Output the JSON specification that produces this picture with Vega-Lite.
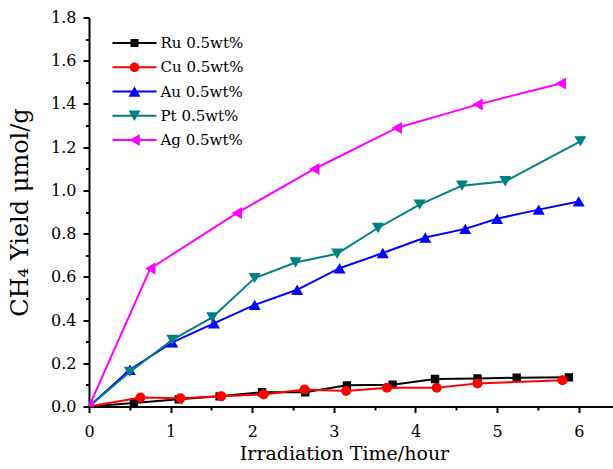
{
  "$schema": "https://vega.github.io/schema/vega-lite/v6.json",
  "autosize": "none",
  "width": 524,
  "height": 389,
  "padding": {"left": 89, "top": 17.5, "right": 0, "bottom": 62.5},
  "background": "white",
  "config": {
    "font": "DejaVu Serif",
    "view": {"stroke": null},
    "axis": {"grid": false, "domainColor": "black", "domainWidth": 2, "tickColor": "black", "tickWidth": 2, "labelColor": "black", "titleColor": "black", "titleFontWeight": "normal", "labelFlush": false, "labelOverlap": false}
  },
  "datasets": {
    "yield": [
      {"series": "Ru", "t": 0, "v": 0},
      {"series": "Ru", "t": 0.55, "v": 0.016},
      {"series": "Ru", "t": 1.10, "v": 0.033},
      {"series": "Ru", "t": 1.60, "v": 0.047},
      {"series": "Ru", "t": 2.12, "v": 0.066},
      {"series": "Ru", "t": 2.65, "v": 0.066},
      {"series": "Ru", "t": 3.16, "v": 0.098},
      {"series": "Ru", "t": 3.72, "v": 0.101},
      {"series": "Ru", "t": 4.24, "v": 0.127},
      {"series": "Ru", "t": 4.76, "v": 0.130},
      {"series": "Ru", "t": 5.24, "v": 0.133},
      {"series": "Ru", "t": 5.88, "v": 0.135},
      {"series": "Cu", "t": 0, "v": 0},
      {"series": "Cu", "t": 0.63, "v": 0.042},
      {"series": "Cu", "t": 1.12, "v": 0.038},
      {"series": "Cu", "t": 1.62, "v": 0.048},
      {"series": "Cu", "t": 2.14, "v": 0.056},
      {"series": "Cu", "t": 2.64, "v": 0.079},
      {"series": "Cu", "t": 3.15, "v": 0.072},
      {"series": "Cu", "t": 3.65, "v": 0.087},
      {"series": "Cu", "t": 4.26, "v": 0.087},
      {"series": "Cu", "t": 4.76, "v": 0.107},
      {"series": "Cu", "t": 5.80, "v": 0.122},
      {"series": "Au", "t": 0, "v": 0},
      {"series": "Au", "t": 0.50, "v": 0.170},
      {"series": "Au", "t": 1.02, "v": 0.297},
      {"series": "Au", "t": 1.53, "v": 0.385},
      {"series": "Au", "t": 2.03, "v": 0.470},
      {"series": "Au", "t": 2.55, "v": 0.540},
      {"series": "Au", "t": 3.07, "v": 0.640},
      {"series": "Au", "t": 3.60, "v": 0.710},
      {"series": "Au", "t": 4.12, "v": 0.782},
      {"series": "Au", "t": 4.61, "v": 0.822},
      {"series": "Au", "t": 5.00, "v": 0.869},
      {"series": "Au", "t": 5.51, "v": 0.911},
      {"series": "Au", "t": 6.00, "v": 0.949},
      {"series": "Pt", "t": 0, "v": 0},
      {"series": "Pt", "t": 0.50, "v": 0.160},
      {"series": "Pt", "t": 1.02, "v": 0.308},
      {"series": "Pt", "t": 1.51, "v": 0.412},
      {"series": "Pt", "t": 2.03, "v": 0.594},
      {"series": "Pt", "t": 2.53, "v": 0.666},
      {"series": "Pt", "t": 3.04, "v": 0.707},
      {"series": "Pt", "t": 3.54, "v": 0.826},
      {"series": "Pt", "t": 4.05, "v": 0.934},
      {"series": "Pt", "t": 4.57, "v": 1.022},
      {"series": "Pt", "t": 5.10, "v": 1.042},
      {"series": "Pt", "t": 6.02, "v": 1.227},
      {"series": "Ag", "t": 0, "v": 0},
      {"series": "Ag", "t": 0.75, "v": 0.638},
      {"series": "Ag", "t": 1.81, "v": 0.895},
      {"series": "Ag", "t": 2.76, "v": 1.099},
      {"series": "Ag", "t": 3.77, "v": 1.289},
      {"series": "Ag", "t": 4.76, "v": 1.397},
      {"series": "Ag", "t": 5.78, "v": 1.495}
    ]
  },
  "data": {"name": "yield"},
  "encoding": {
    "x": {
      "field": "t", "type": "quantitative",
      "scale": {"domain": [0, 6.42], "nice": false, "zero": false},
      "axis": {
        "values": [0, 0.5, 1, 1.5, 2, 2.5, 3, 3.5, 4, 4.5, 5, 5.5, 6],
        "labelExpr": "datum.value % 1 === 0 ? format(datum.value, 'd') : ''",
        "tickSize": {"condition": {"test": "datum.value % 1 === 0", "value": 6}, "value": 3.5},
        "labelFontSize": 16,
        "labelPadding": 11,
        "title": "Irradiation Time/hour",
        "titleFontSize": 19,
        "titlePadding": 5,
        "titleX": 255
      }
    },
    "y": {
      "field": "v", "type": "quantitative",
      "scale": {"domain": [0, 1.8], "nice": false},
      "axis": {
        "values": [0, 0.1, 0.2, 0.3, 0.4, 0.5, 0.6, 0.7, 0.8, 0.9, 1.0, 1.1, 1.2, 1.3, 1.4, 1.5, 1.6, 1.7, 1.8],
        "labelExpr": "round(datum.value * 10) % 2 === 0 ? format(datum.value, '.1f') : ''",
        "tickSize": {"condition": {"test": "round(datum.value * 10) % 2 === 0", "value": 6}, "value": 3.5},
        "labelFontSize": 16,
        "labelPadding": 7,
        "title": "CH₄ Yield μmol/g",
        "titleFontSize": 24,
        "titlePadding": 18
      }
    }
  },
  "layer": [
    {
      "data": {"values": [{"edge": "top"}]},
      "mark": {"type": "rule", "color": "black", "strokeWidth": 2},
      "encoding": {"x": null, "y": {"datum": 1.8, "type": "quantitative"}}
    },
    {
      "transform": [{"filter": "datum.series === 'Ru'"}],
      "layer": [
        {"mark": {"type": "line", "strokeWidth": 2, "color": "#000000", "clip": true}, "encoding": {}},
        {"mark": {"type": "point", "shape": "square", "filled": true, "opacity": 1, "size": 70, "color": "#000000", "clip": true}}
      ]
    },
    {
      "transform": [{"filter": "datum.series === 'Cu'"}],
      "layer": [
        {"mark": {"type": "line", "strokeWidth": 2, "color": "#FF0000", "clip": true}, "encoding": {}},
        {"mark": {"type": "point", "shape": "circle", "filled": true, "opacity": 1, "size": 100, "color": "#FF0000", "clip": true}}
      ]
    },
    {
      "transform": [{"filter": "datum.series === 'Au'"}],
      "layer": [
        {"mark": {"type": "line", "strokeWidth": 2, "color": "#0000FF", "clip": true}, "encoding": {}},
        {"mark": {"type": "point", "shape": "triangle-up", "filled": true, "opacity": 1, "size": 144, "color": "#0000FF", "clip": true}}
      ]
    },
    {
      "transform": [{"filter": "datum.series === 'Pt'"}],
      "layer": [
        {"mark": {"type": "line", "strokeWidth": 2, "color": "#008080", "clip": true}, "encoding": {}},
        {"mark": {"type": "point", "shape": "triangle-down", "filled": true, "opacity": 1, "size": 144, "color": "#008080", "clip": true}}
      ]
    },
    {
      "transform": [{"filter": "datum.series === 'Ag'"}],
      "layer": [
        {"mark": {"type": "line", "strokeWidth": 2, "color": "#FF00FF", "clip": true}, "encoding": {}},
        {"mark": {"type": "point", "shape": "triangle-left", "filled": true, "opacity": 1, "size": 144, "color": "#FF00FF", "clip": true}}
      ]
    },
    {
      "mark": {"type": "point", "filled": true, "opacity": 0, "clip": true},
      "encoding": {
        "color": {
          "field": "series", "type": "nominal",
          "scale": {"domain": ["Ru", "Cu", "Au", "Pt", "Ag"], "range": ["#000000", "#FF0000", "#0000FF", "#008080", "#FF00FF"]},
          "legend": {"orient": "none", "legendX": 38, "legendY": 18, "title": null, "padding": 0, "symbolSize": 121, "symbolStrokeWidth": 0, "symbolOpacity": 1, "labelFontSize": 15, "labelColor": "black", "labelOffset": 18.5, "rowPadding": 8.25, "labelExpr": "datum.label + ' 0.5wt%'"}
        },
        "shape": {
          "field": "series", "type": "nominal",
          "scale": {"domain": ["Ru", "Cu", "Au", "Pt", "Ag"], "range": [
            "M-4,-0.18H4V0.18H-4Z M-0.73,-0.73H0.73V0.73H-0.73Z",
            "M-4,-0.18H4V0.18H-4Z M-0.87,0A0.87,0.87,0,1,1,0.87,0A0.87,0.87,0,1,1,-0.87,0Z",
            "M-4,-0.18H4V0.18H-4Z M0,-0.95L1.09,0.95H-1.09Z",
            "M-4,-0.18H4V0.18H-4Z M0,0.95L-1.09,-0.95H1.09Z",
            "M-4,-0.18H4V0.18H-4Z M-0.95,0L0.95,-1.09V1.09Z"
          ]},
          "legend": {"orient": "none", "legendX": 38, "legendY": 18, "title": null, "padding": 0, "symbolSize": 121, "symbolStrokeWidth": 0, "symbolOpacity": 1, "labelFontSize": 15, "labelColor": "black", "labelOffset": 18.5, "rowPadding": 8.25, "labelExpr": "datum.label + ' 0.5wt%'"}
        }
      }
    }
  ]
}
